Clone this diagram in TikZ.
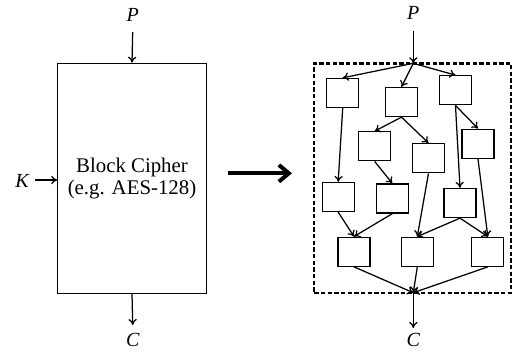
\documentclass[tikz,border=0pt]{standalone}
\usepackage{fontspec}
\setmainfont{Liberation Serif}
\usetikzlibrary{arrows.meta}
\begin{document}
\begin{tikzpicture}[x=0.6pt,y=-0.6pt,
  blk/.style={draw,line width=0.8pt,minimum width=19.2pt,minimum height=17.4pt,inner sep=0pt},
  conn/.style={line width=0.75pt,-{To[length=3.6pt,width=5pt]}},
  lbl/.style={font=\fontsize{12}{14}\selectfont\itshape,inner sep=0pt}]
\useasboundingbox (0,0) rectangle (512,351);
% left cipher
\node[draw,line width=0.75pt,minimum width=89pt,minimum height=138pt,inner sep=0pt,
  align=center,font=\fontsize{12.5}{13}\selectfont] (bc) at (132,178.3)
  {Block Cipher\\(e.g. AES-128)};
\node[lbl] (P1) at (132.7,15) {P};
\node[lbl] (K1) at (22,181) {K};
\node[lbl] (C1) at (132.7,340) {C};
\coordinate (p1e) at (132.7,32);
\coordinate (k1e) at (35,180);
\coordinate (c1e) at (132.7,325);
\draw[conn] (p1e) -- (bc.north);
\draw[conn] (k1e) -- (bc.west |- k1e);
\draw[conn] (bc.south) -- (c1e);
% big arrow
\coordinate (ba1) at (228.3,173.3);
\coordinate (ba2) at (292,173.3);
\draw[line width=2.4pt,-{Straight Barb[length=6pt,width=10pt]}] (ba1) -- (ba2);
% dashed frame
\node[draw,line width=1.4pt,dash pattern=on 2.6pt off 1.4pt,minimum width=118pt,minimum height=137.6pt,inner sep=0pt] (frame) at (412.6,178) {};
\coordinate (split) at (413.3,63.3);
\coordinate (merge) at (413.3,292.7);
\node[lbl] (P2) at (413.3,13) {P};
\node[lbl] (C2) at (413.3,340) {C};
\coordinate (p2e) at (413.3,31);
\coordinate (c2e) at (413.3,328);
\draw[conn] (p2e) -- (split);
\draw[conn] (merge) -- (c2e);
% boxes
\node[blk] (A) at (342.7,93) {};
\node[blk] (B) at (401.5,102) {};
\node[blk] (Cc) at (455.5,90.3) {};
\node[blk] (D) at (374.7,146.3) {};
\node[blk] (E) at (428.5,158.2) {};
\node[blk] (F) at (478,143.7) {};
\node[blk] (G) at (338.2,197) {};
\node[blk] (H) at (392.3,198.5) {};
\node[blk] (I) at (460,203) {};
\node[blk] (J) at (354,251.7) {};
\node[blk] (Kb) at (417.3,251.7) {};
\node[blk] (L) at (487.8,251.7) {};
% edges
\draw[conn] (split) -- (A.north);
\draw[conn] (split) -- (B.north);
\draw[conn] (split) -- (Cc.north);
\draw[conn] (A.south) -- (G.north);
\draw[conn] (B.south) -- (D.north);
\draw[conn] (B.south) -- (E.north);
\draw[conn] (Cc.south) -- (F.north);
\draw[conn] (Cc.south) -- (I.north);
\draw[conn] (F.south) -- (L.north);
\draw[conn] (D.south) -- (H.north);
\draw[conn] (E.south) -- (Kb.north);
\draw[conn] (G.south) -- (J.north);
\draw[conn] (H.south) -- (J.north);
\draw[conn] (I.south) -- (Kb.north);
\draw[conn] (I.south) -- (L.north);
\draw[conn] (J.south) -- (merge);
\draw[conn] (Kb.south) -- (merge);
\draw[conn] (L.south) -- (merge);
\end{tikzpicture}
\end{document}
